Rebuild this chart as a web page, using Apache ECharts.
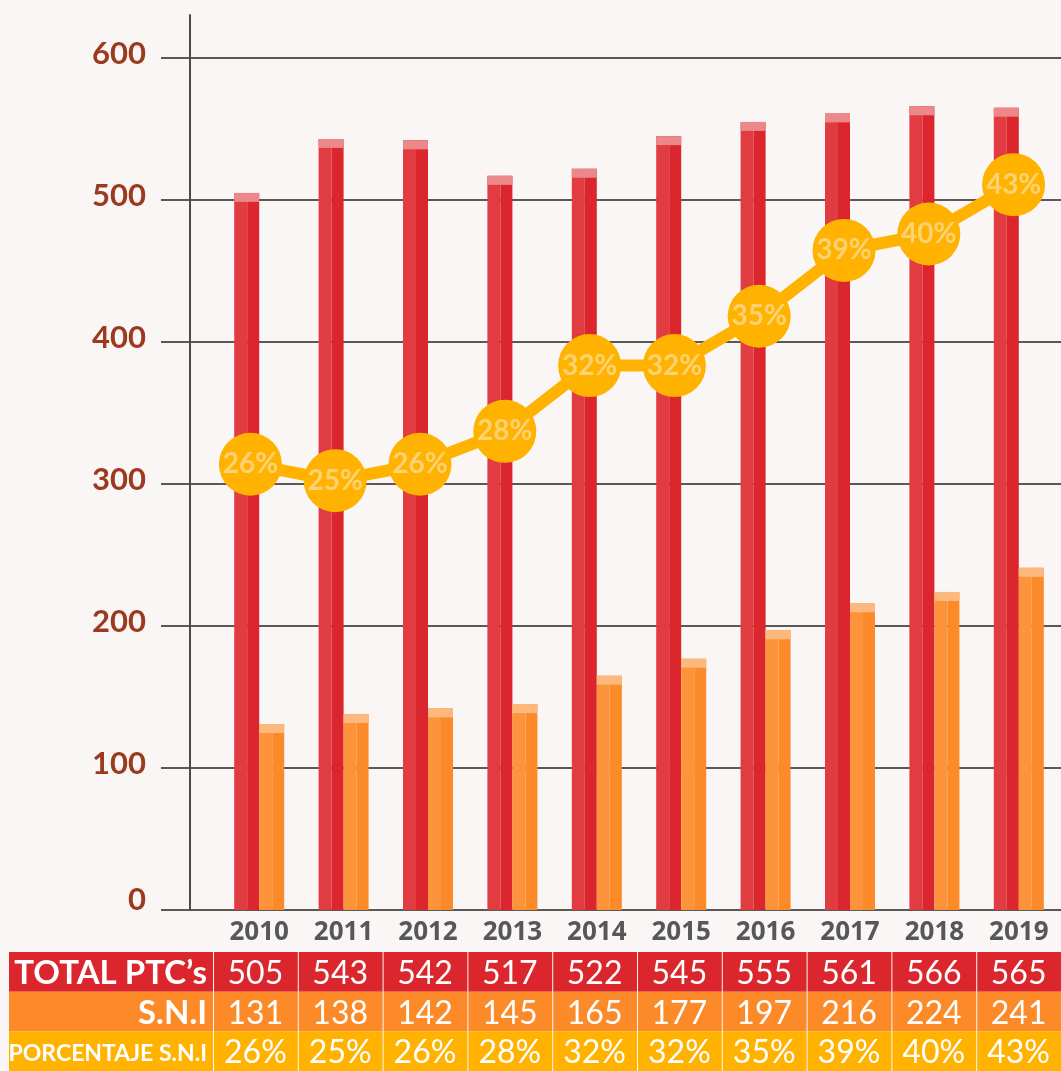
<!DOCTYPE html>
<html>
<head>
<meta charset="utf-8">
<title>PTC y S.N.I</title>
<script src="https://cdn.jsdelivr.net/npm/echarts@6.0.0/dist/echarts.min.js"></script>
<style>
  html, body { margin: 0; padding: 0; background: #faf6f5; }
  #main { width: 1061px; height: 1071px; }
</style>
</head>
<body>
<div id="main"></div>
<script>
// datos
var years = ['2010', '2011', '2012', '2013', '2014', '2015', '2016', '2017', '2018', '2019'];
var totalPTC = [505, 543, 542, 517, 522, 545, 555, 561, 566, 565];
var sni = [131, 138, 142, 145, 165, 177, 197, 216, 224, 241];
var pctSNI = [26, 25, 26, 28, 32, 32, 35, 39, 40, 43];
var rowLabels = ['TOTAL PTC\u2019s', 'S.N.I', 'PORCENTAJE S.N.I'];

var myChart = echarts.init(document.getElementById('main'));

var RED_L = '#e03c42', RED_D = '#dc262d', RED_CAP = '#ec878a';
var ORA_L = '#fd943c', ORA_D = '#fd8a28', ORA_CAP = '#fdb87e';
var YEL = '#ffb300';
var rowColors = [RED_D, ORA_D, YEL];

// barras dobles con tapa clara arriba
function renderBars(params, api) {
    var i = api.value(0);
    var base = api.coord([i, 0]);
    var tTop = api.coord([i, api.value(1)]);
    var sTop = api.coord([i, api.value(2)]);
    var w = 25, half = 13, cap = 9;
    var xr = base[0] - w, xo = base[0];
    function bar(x, yTop, light, dark, capColor) {
        var h = base[1] - yTop;
        return [
            { type: 'rect', shape: { x: x, y: yTop, width: half, height: h }, style: { fill: light } },
            { type: 'rect', shape: { x: x + half, y: yTop, width: w - half, height: h }, style: { fill: dark } },
            { type: 'rect', shape: { x: x, y: yTop, width: w, height: cap }, style: { fill: capColor } }
        ];
    }
    return {
        type: 'group',
        children: bar(xr, tTop[1], RED_L, RED_D, RED_CAP).concat(bar(xo, sTop[1], ORA_L, ORA_D, ORA_CAP))
    };
}

// celdas de la tabla
function renderCells(params, api) {
    var i = api.value(0), r = api.value(1);
    var c = api.coord([i, r]);
    var s = api.size([1, 1]);
    var txt = r === 0 ? String(totalPTC[i]) : (r === 1 ? String(sni[i]) : pctSNI[i] + '%');
    return {
        type: 'group',
        children: [
            { type: 'rect', shape: { x: c[0] - s[0] / 2 + 1, y: c[1] - s[1] / 2, width: s[0] - 1, height: s[1] }, style: { fill: rowColors[r] } },
            { type: 'text', x: c[0], y: c[1] + 2, style: { text: txt, fill: '#ffffff', fontSize: 32, fontFamily: 'Lato', fontWeight: 'normal', align: 'center', verticalAlign: 'middle' } }
        ]
    };
}

function renderHead(params, api) {
    var r = api.value(1);
    var c = api.coord([0, r]);
    var s = api.size([1, 1]);
    var fs = r === 2 ? 23 : 33;
    return {
        type: 'group',
        children: [
            { type: 'rect', shape: { x: c[0] - s[0] / 2, y: c[1] - s[1] / 2, width: s[0], height: s[1] }, style: { fill: rowColors[r] } },
            { type: 'text', x: c[0] + s[0] / 2 - 6, y: c[1] + 2, style: { text: rowLabels[r], fill: '#ffffff', fontSize: fs, fontFamily: 'Lato', fontWeight: 'bold', align: 'right', verticalAlign: 'middle' } }
        ]
    };
}

var barData = [];
var cellData = [];
years.forEach(function (y, i) {
    barData.push([i, totalPTC[i], sni[i]]);
    for (var r = 0; r < 3; r++) {
        cellData.push([i, r]);
    }
});

var yFont = { color: '#9b3a1e', fontFamily: 'Lato', fontWeight: 'bold', fontSize: 31 };

option = {
    backgroundColor: '#faf6f5',
    animation: false,
    grid: [
        { left: 217, top: 58, width: 848, bottom: 161 },   // barras
        { left: 161, top: 58, right: 0, bottom: 161 },      // lineas de fondo
        { left: 190, top: 15, width: 10, bottom: 161 },     // eje vertical
        { left: 208, top: 58, width: 848, bottom: 161 },    // linea de porcentaje
        { left: 213, top: 952, width: 850, height: 119 },   // tabla
        { left: 9, top: 952, width: 204, height: 119 }      // encabezados tabla
    ],
    xAxis: [
        {
            gridIndex: 0, type: 'category', data: years,
            axisLine: { show: false }, axisTick: { show: false },
            axisLabel: { color: '#555759', fontFamily: 'Open Sans', fontWeight: 'bold', fontSize: 26, margin: 10 }
        },
        { gridIndex: 1, type: 'value', show: false },
        { gridIndex: 2, type: 'value', show: false },
        { gridIndex: 3, type: 'category', data: years, show: false },
        { gridIndex: 4, type: 'category', data: years, show: false },
        { gridIndex: 5, type: 'category', data: ['label'], show: false }
    ],
    yAxis: [
        { gridIndex: 0, type: 'value', min: 0, max: 600, interval: 100, show: false },
        {
            gridIndex: 1, type: 'value', min: 0, max: 600, interval: 100,
            axisLine: { show: false }, axisTick: { show: false },
            axisLabel: {
                color: yFont.color, fontFamily: yFont.fontFamily, fontWeight: yFont.fontWeight, fontSize: yFont.fontSize,
                margin: 15,
                formatter: function (v) { return v === 0 ? '{z|0}' : '{n|' + v + '}'; },
                rich: {
                    z: Object.assign({ padding: [0, 0, 20, 0] }, yFont),
                    n: Object.assign({ padding: [0, 0, 8, 0] }, yFont)
                }
            },
            splitLine: { show: true, lineStyle: { color: '#5d5856', width: 2 } }
        },
        {
            gridIndex: 2, type: 'value', min: 0, max: 1,
            axisLine: { show: true, lineStyle: { color: '#4f4a48', width: 2 } },
            axisTick: { show: false }, axisLabel: { show: false }, splitLine: { show: false }
        },
        { gridIndex: 3, type: 'value', min: -1.1, max: 50.7, show: false },
        { gridIndex: 4, type: 'category', data: ['total', 'sni', 'pct'], inverse: true, show: false },
        { gridIndex: 5, type: 'category', data: ['total', 'sni', 'pct'], inverse: true, show: false }
    ],
    series: [
        {
            type: 'custom',
            xAxisIndex: 0, yAxisIndex: 0,
            renderItem: renderBars,
            data: barData,
            z: 2
        },
        {
            type: 'line',
            xAxisIndex: 3, yAxisIndex: 3,
            data: pctSNI,
            symbol: 'circle',
            symbolSize: 63,
            itemStyle: { color: YEL },
            lineStyle: { color: YEL, width: 12 },
            label: {
                show: true, position: 'inside', formatter: '{c}%',
                color: '#fdd275', fontFamily: 'Lato', fontWeight: 'bold', fontSize: 28
            },
            emphasis: { disabled: true },
            z: 5
        },
        {
            type: 'custom',
            xAxisIndex: 4, yAxisIndex: 4,
            renderItem: renderCells,
            data: cellData
        },
        {
            type: 'custom',
            xAxisIndex: 5, yAxisIndex: 5,
            renderItem: renderHead,
            data: [[0, 0], [0, 1], [0, 2]]
        }
    ]
};

if (option && typeof option === "object") {
    myChart.setOption(option, true);
}
</script>
</body>
</html>
